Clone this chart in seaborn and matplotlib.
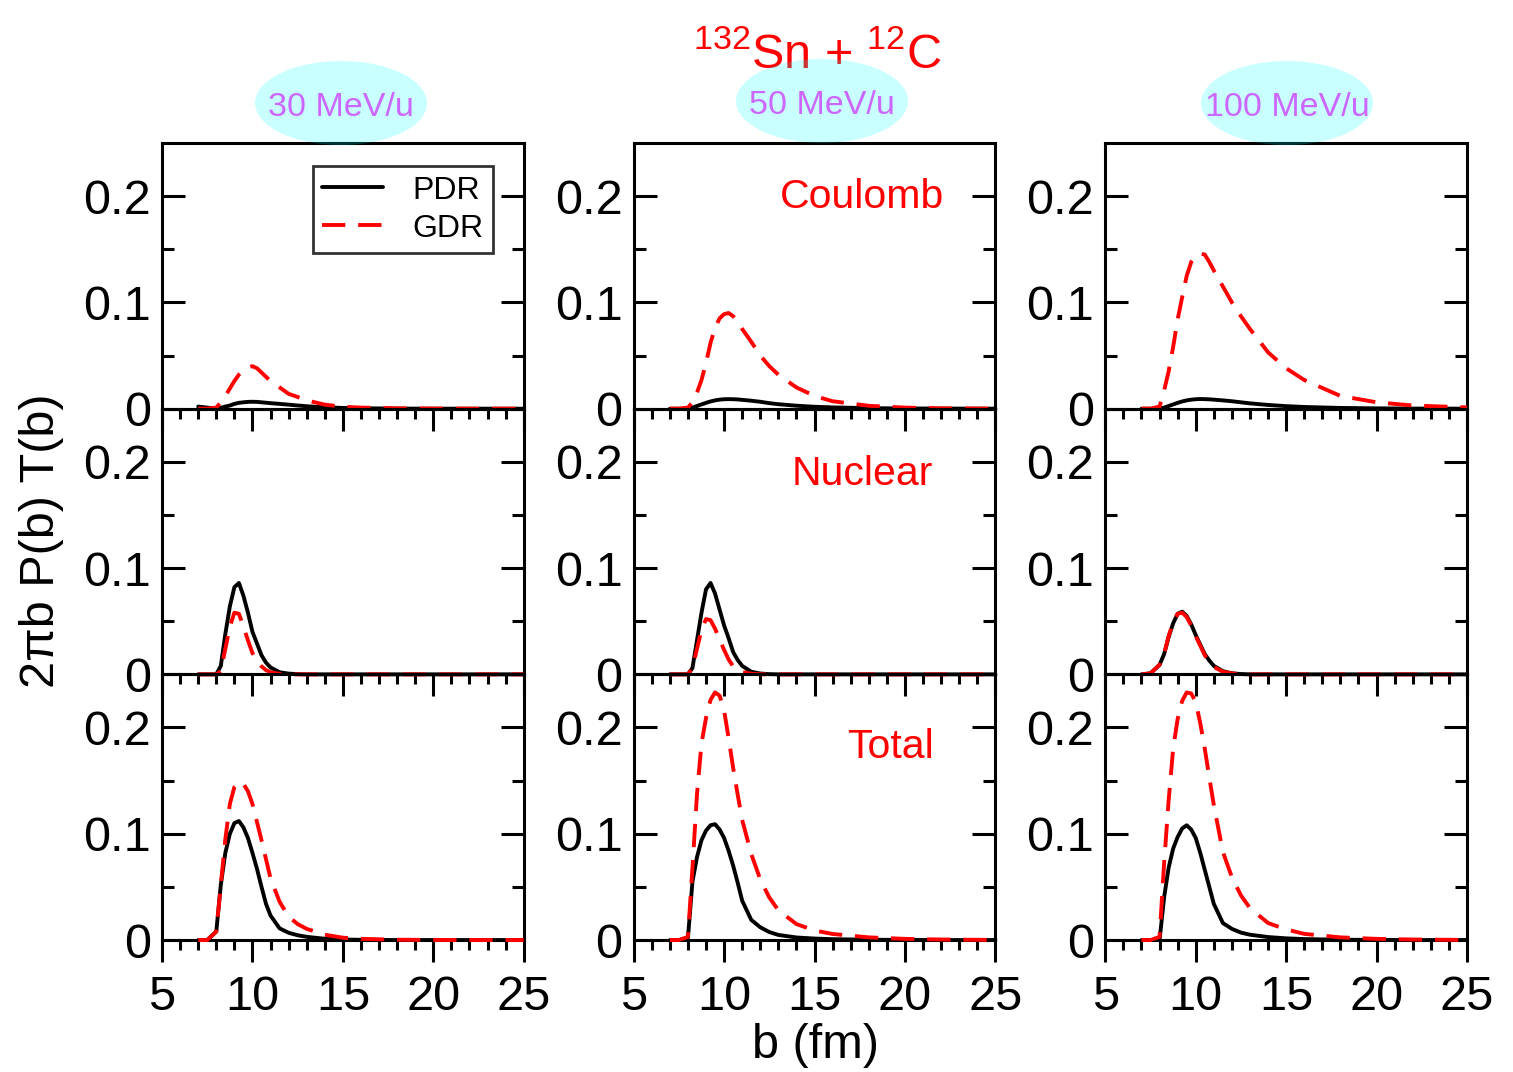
import numpy as np
import pandas as pd
import seaborn as sns
import matplotlib
matplotlib.use("Agg")
import matplotlib.pyplot as plt
from matplotlib.patches import Ellipse
from matplotlib.ticker import MultipleLocator, FixedLocator, FixedFormatter

# impact parameter grid (fm)
b = [7, 7.5, 8, 8.25, 8.5, 8.75, 9, 9.25, 9.5, 9.75, 10, 10.25, 10.5, 10.75, 11,
     11.5, 12, 12.5, 13, 14, 15, 16, 18, 20, 22, 25]

energies = ["30 MeV/u", "50 MeV/u", "100 MeV/u"]
rows = ["Coulomb", "Nuclear", "Total"]

# Coulomb
coul_pdr_30 = [0.002, 0.001, 0.0, 0.0008, 0.002, 0.003, 0.0045, 0.0055, 0.006, 0.0064, 0.0065, 0.0064, 0.006,
               0.0056, 0.0052, 0.0045, 0.0038, 0.003, 0.0023, 0.0013, 0.0007, 0.0004, 0.0001, 0, 0, 0]
coul_gdr_30 = [0, 0, 0.001, 0.006, 0.012, 0.019, 0.026, 0.032, 0.036, 0.039, 0.040, 0.038, 0.034,
               0.030, 0.026, 0.020, 0.014, 0.011, 0.0078, 0.0038, 0.0018, 0.001, 0.0003, 0.0001, 0, 0]
coul_pdr_50 = [0, 0, 0, 0.001, 0.0025, 0.004, 0.0055, 0.0068, 0.0078, 0.0085, 0.0089, 0.009, 0.0089,
               0.0087, 0.0083, 0.0075, 0.0065, 0.0052, 0.0042, 0.0028, 0.0018, 0.0012, 0.0005, 0.0002, 0.0001, 0]
coul_gdr_50 = [0, 0, 0.001, 0.006, 0.015, 0.027, 0.043, 0.062, 0.076, 0.085, 0.089, 0.090, 0.087,
               0.082, 0.075, 0.063, 0.050, 0.040, 0.032, 0.020, 0.012, 0.007, 0.0027, 0.001, 0.0003, 0]
coul_pdr_100 = [0, 0, 0, 0.001, 0.0025, 0.004, 0.0055, 0.0068, 0.0078, 0.0085, 0.0089, 0.0091, 0.009,
                0.0088, 0.0085, 0.0078, 0.007, 0.006, 0.005, 0.0035, 0.0024, 0.0016, 0.0007, 0.0003, 0.0001, 0]
coul_gdr_100 = [0, 0, 0.002, 0.017, 0.035, 0.058, 0.084, 0.105, 0.125, 0.138, 0.144, 0.146, 0.145,
                0.138, 0.130, 0.115, 0.100, 0.087, 0.075, 0.053, 0.038, 0.027, 0.012, 0.006, 0.003, 0.0012]

# Nuclear
nuc_pdr_30 = [0, 0, 0, 0.008, 0.038, 0.064, 0.082, 0.086, 0.074, 0.058, 0.040, 0.029, 0.018,
              0.011, 0.0065, 0.002, 0.0007, 0.0002, 0, 0, 0, 0, 0, 0, 0, 0]
nuc_gdr_30 = [0, 0, 0, 0.003, 0.024, 0.045, 0.058, 0.057, 0.045, 0.032, 0.020, 0.013, 0.0075,
              0.004, 0.002, 0.0005, 0, 0, 0, 0, 0, 0, 0, 0, 0, 0]
nuc_pdr_50 = [0, 0, 0, 0.006, 0.032, 0.058, 0.080, 0.086, 0.076, 0.061, 0.046, 0.034, 0.021,
              0.0135, 0.008, 0.0025, 0.0008, 0.0002, 0, 0, 0, 0, 0, 0, 0, 0]
nuc_gdr_50 = [0, 0, 0, 0.006, 0.024, 0.042, 0.052, 0.051, 0.043, 0.033, 0.023, 0.014, 0.0075,
              0.004, 0.0022, 0.0006, 0.0001, 0, 0, 0, 0, 0, 0, 0, 0, 0]
nuc_pdr_100 = [0, 0.001, 0.009, 0.019, 0.035, 0.048, 0.057, 0.059, 0.055, 0.047, 0.037, 0.028, 0.019,
               0.013, 0.008, 0.003, 0.001, 0.0003, 0, 0, 0, 0, 0, 0, 0, 0]
nuc_gdr_100 = [0, 0.001, 0.009, 0.019, 0.036, 0.049, 0.057, 0.058, 0.054, 0.046, 0.036, 0.027, 0.018,
               0.012, 0.007, 0.0025, 0.0008, 0.0002, 0, 0, 0, 0, 0, 0, 0, 0]

# Total
tot_pdr_30 = [0, 0, 0.008, 0.052, 0.082, 0.100, 0.110, 0.112, 0.106, 0.096, 0.082, 0.067, 0.050,
              0.034, 0.023, 0.011, 0.0068, 0.0045, 0.003, 0.0012, 0.0005, 0.0002, 0, 0, 0, 0]
tot_gdr_30 = [0, 0, 0.008, 0.052, 0.095, 0.128, 0.144, 0.149, 0.147, 0.140, 0.128, 0.111, 0.094,
              0.076, 0.058, 0.036, 0.022, 0.015, 0.0105, 0.005, 0.0022, 0.0011, 0.0003, 0.0001, 0, 0]
tot_pdr_50 = [0, 0, 0.002, 0.055, 0.078, 0.094, 0.103, 0.108, 0.109, 0.104, 0.096, 0.084, 0.070,
              0.054, 0.037, 0.019, 0.012, 0.0075, 0.0048, 0.0024, 0.0014, 0.0008, 0.0003, 0.0001, 0, 0]
tot_gdr_50 = [0, 0, 0.003, 0.068, 0.137, 0.185, 0.209, 0.226, 0.233, 0.230, 0.216, 0.190, 0.162,
              0.137, 0.113, 0.081, 0.057, 0.040, 0.028, 0.015, 0.009, 0.0057, 0.0025, 0.0011, 0.0005, 0.0001]
tot_pdr_100 = [0, 0, 0, 0.040, 0.068, 0.086, 0.097, 0.105, 0.108, 0.104, 0.096, 0.082, 0.066,
               0.050, 0.034, 0.016, 0.0105, 0.007, 0.005, 0.0028, 0.0016, 0.0009, 0.0003, 0.0001, 0, 0]
tot_gdr_100 = [0, 0, 0.003, 0.072, 0.131, 0.180, 0.208, 0.225, 0.233, 0.232, 0.224, 0.204, 0.180,
               0.153, 0.127, 0.083, 0.059, 0.042, 0.030, 0.016, 0.010, 0.0058, 0.0025, 0.0011, 0.0005, 0.0001]

pdr = [[coul_pdr_30, coul_pdr_50, coul_pdr_100],
       [nuc_pdr_30, nuc_pdr_50, nuc_pdr_100],
       [tot_pdr_30, tot_pdr_50, tot_pdr_100]]
gdr = [[coul_gdr_30, coul_gdr_50, coul_gdr_100],
       [nuc_gdr_30, nuc_gdr_50, nuc_gdr_100],
       [tot_gdr_30, tot_gdr_50, tot_gdr_100]]

sns.set_theme(style="ticks")
plt.rcParams['font.family'] = ['Liberation Sans', 'DejaVu Sans']
plt.rcParams['mathtext.fontset'] = 'custom'
plt.rcParams['mathtext.rm'] = 'Liberation Sans'
plt.rcParams['mathtext.default'] = 'regular'
for key in ['text.color', 'axes.edgecolor', 'axes.labelcolor', 'xtick.color', 'ytick.color']:
    plt.rcParams[key] = 'black'

fig, axes = plt.subplots(3, 3, figsize=(15.13, 10.72), dpi=100)
fig.subplots_adjust(left=0.1071, right=0.9696, top=0.8666, bottom=0.1231,
                    hspace=0, wspace=0.304)

red = '#ff0000'
lw = 2.8
tsize = 35

for i in range(3):
    for j in range(3):
        ax = axes[i, j]
        ax.set_facecolor('none')
        df = pd.DataFrame({'b': b, 'PDR': pdr[i][j], 'GDR': gdr[i][j]})
        sns.lineplot(data=df, x='b', y='PDR', ax=ax, color='black', lw=lw,
                     estimator=None, sort=False, clip_on=False, zorder=3, label='PDR')
        sns.lineplot(data=df, x='b', y='GDR', ax=ax, color=red, lw=lw,
                     estimator=None, sort=False, clip_on=False, zorder=3, label='GDR')
        ax.get_legend().remove()
        l_pdr, l_gdr = ax.get_lines()[:2]
        l_pdr.set_solid_joinstyle('round')
        l_gdr.set_dashes((6, 3.3))
        l_gdr.set_dash_joinstyle('round')
        ax.set_xlim(5, 25)
        ax.set_ylim(0, 0.25)
        ax.set_xlabel('')
        ax.set_ylabel('')
        for s in ax.spines.values():
            s.set_linewidth(2.2)
            s.set_visible(True)
            s.set_color('black')
        ax.xaxis.set_major_locator(MultipleLocator(5))
        ax.xaxis.set_minor_locator(MultipleLocator(1))
        ax.yaxis.set_major_locator(FixedLocator([0, 0.1, 0.2]))
        ax.yaxis.set_major_formatter(FixedFormatter(['0', '0.1', '0.2']))
        ax.yaxis.set_minor_locator(FixedLocator([0.05, 0.15]))
        ax.tick_params(axis='x', which='both', direction='out', bottom=True, top=False,
                       width=2.2, labelsize=tsize, pad=9, colors='black')
        ax.tick_params(axis='x', which='major', length=16)
        ax.tick_params(axis='x', which='minor', length=7)
        ax.tick_params(axis='y', which='both', direction='in', left=True, right=True,
                       width=2.2, labelsize=tsize, pad=8, colors='black')
        ax.tick_params(axis='y', which='major', length=16.5)
        ax.tick_params(axis='y', which='minor', length=8.5)
        if i < 2:
            ax.tick_params(axis='x', labelbottom=False)

# legend in the first panel
leg = axes[0, 0].legend(handles=axes[0, 0].get_lines()[:2], labels=['PDR', 'GDR'],
                        loc='upper right', bbox_to_anchor=(0.914, 0.9135),
                        borderaxespad=0, fontsize=23, frameon=True, fancybox=False,
                        handlelength=1.9, handletextpad=0.9, labelspacing=0.25,
                        borderpad=0.3)
leg.get_frame().set_edgecolor('black')
leg.get_frame().set_linewidth(2)

# panel labels
axes[0, 1].text(17.65, 0.189, 'Coulomb', color=red, fontsize=29.5, ha='center', va='baseline')
axes[1, 1].text(17.65, 0.178, 'Nuclear', color=red, fontsize=29.5, ha='center', va='baseline')
axes[2, 1].text(19.2, 0.171, 'Total', color=red, fontsize=29.5, ha='center', va='baseline')

# title
fig.text(817 / 1513, 1 - 68 / 1072, r'$^{132}$Sn + $^{12}$C', color=red, fontsize=35,
         ha='center', va='baseline', zorder=1)

# energy ovals
centers = [(341, 103), (822, 101), (1287, 103)]
for (cx, cy), lab in zip(centers, energies):
    fig.add_artist(Ellipse((cx / 1513, 1 - cy / 1072), 172 / 1513, 84 / 1072,
                           transform=fig.transFigure, facecolor='cyan', alpha=0.21,
                           edgecolor='none', zorder=2))
    fig.text(cx / 1513, 1 - (cy + 5) / 1072, lab, color='#cc66ff', fontsize=24.5,
             ha='center', va='center', zorder=3)

fig.text(815 / 1513, 1 - 1045 / 1072, 'b (fm)', fontsize=tsize, ha='center', va='center')
fig.text(42 / 1513, 1 - 541 / 1072, '2πb P(b) T(b)', fontsize=tsize, ha='center',
         va='center', rotation=90)

fig.savefig('out.png', dpi=100)
